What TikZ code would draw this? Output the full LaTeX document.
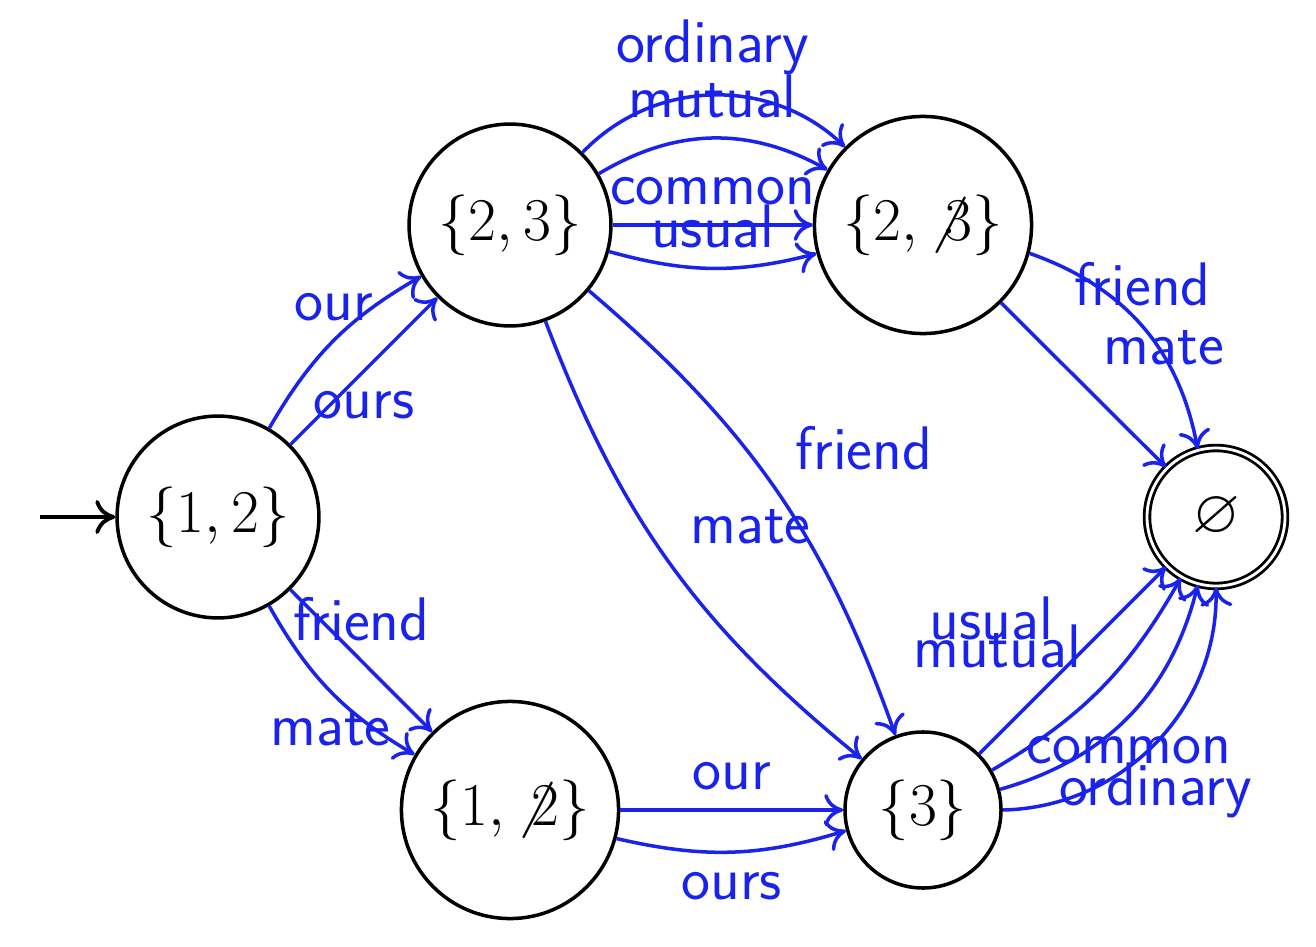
\documentclass[tikz,border=0pt]{standalone}
\usepackage{amsmath}
\usepackage{amssymb}
\usepackage{tikz}
\usepackage{xcolor}
\usetikzlibrary{arrows.meta}
\definecolor{transblue}{RGB}{25,35,235}
\tikzset{
    state-node/.style = {draw=black, circle, line width=1pt, inner sep=5pt, minimum size=1.38cm, font=\fontsize{17.5}{21}\selectfont},
    final-node/.style = {state-node, double, double distance=0.8pt, line width=0.8pt},
    trans/.style = {draw=transblue, line width=1pt, -{To[length=1.9mm,width=3.2mm]}},
    edge-label/.style = {text=transblue, inner sep=5.2pt, font=\fontsize{17.5}{21}\selectfont\sffamily},
}

\begin{document}
\begin{tikzpicture}
\useasboundingbox (0,0) rectangle (13.16,9.46);
\node[state-node] (s12) at (2.18,4.29) {$\{1,2\}$};
\node[state-node] (s23) at (5.10,7.21) {$\{2,3\}$};
\node[state-node] (s2n3) at (9.23,7.21) {$\{2, \not3\}$};
\node[state-node] (s1n2) at (5.10,1.36) {$\{1, \not2\}$};
\node[state-node] (s3) at (9.23,1.36) {$\{3\}$};
\node[final-node] (empty) at (12.16,4.29) {$\varnothing$};
\coordinate (start) at (0.40,4.29);

\draw[line width=1.1pt, -{To[length=2mm,width=3.4mm]}] (start) -- (s12);

\path[trans] (s12) edge[bend left=15] node[edge-label, above] {our} (s23)
                   edge node[edge-label, below] {ours} (s23)
                   edge node[edge-label, above] {friend} (s1n2)
                   edge[bend right=15] node[edge-label, below] {mate} (s1n2);
\path[trans] (s23) edge[bend left=45] node[edge-label, above] {ordinary} (s2n3)
                   edge[bend left=30] node[edge-label, above] {mutual} (s2n3)
                   edge node[edge-label, above] {common} (s2n3)
                   edge[bend right=15] node[edge-label, above] {usual} (s2n3)
                   edge[bend left=15] node[edge-label, above right] {friend} (s3)
                   edge[bend right=15] node[edge-label, above right] {mate} (s3);
\path[trans] (s2n3) edge[bend left=30] node[edge-label, above] {friend} (empty)
                    edge node[edge-label, above right] {mate} (empty);
\path[trans] (s1n2) edge node[edge-label, above] {our} (s3)
                    edge[bend right=15] node[edge-label, below] {ours} (s3);
\path[trans] (s3) edge node[edge-label, above left] {usual} (empty)
                  edge[bend right=15] node[edge-label, above left] {mutual} (empty)
                  edge[bend right=30] node[edge-label, below] {common} (empty)
                  edge[bend right=45] node[edge-label, below] {ordinary} (empty);
\end{tikzpicture}
\end{document}
